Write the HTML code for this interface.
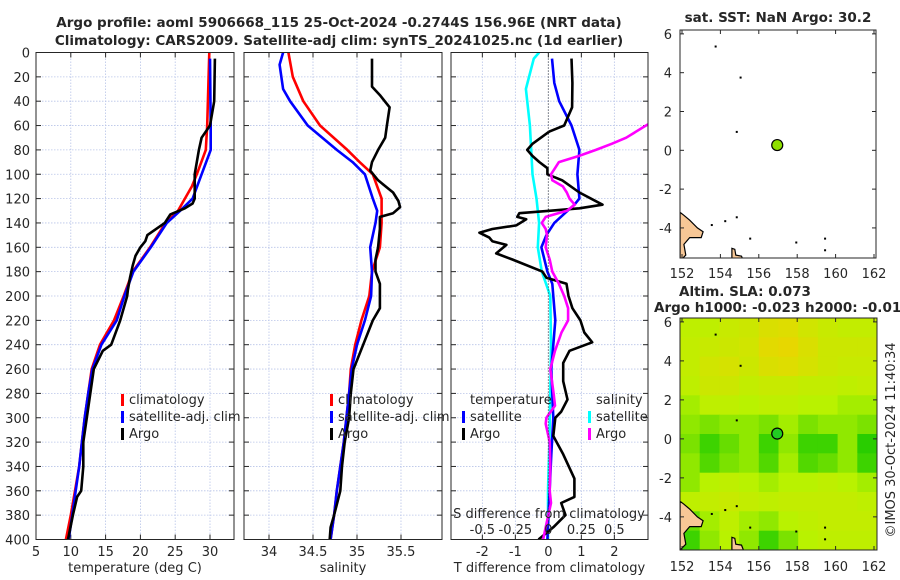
<!DOCTYPE html>
<html><head><meta charset="utf-8"><style>
body{margin:0;background:#fff}
svg{display:block;font-family:"DejaVu Sans","Liberation Sans",sans-serif}
</style></head><body>
<svg id="fig" width="900" height="580" viewBox="0 0 900 580"></svg>
<script>
// ---------- data ----------
const depthTicks=[0,20,40,60,80,100,120,140,160,180,200,220,240,260,280,300,320,340,360,380,400];
const tempTicks=[5,10,15,20,25,30];
const salTicks=[34,34.5,35,35.5];
const tdiffTicks=[-2,-1,0,1,2];
const sdiffTicks=[-0.5,-0.25,0,0.25,0.5];
const sdiffTickLabels=["-0.5","-0.25","0","0.25","0.5"];

const climDepth=[0,20,40,60,80,100,110,120,130,140,160,180,200,220,240,260,280,300,320,340,360,380,400];
const climTemp=[29.9,29.8,29.7,29.6,29.4,28.1,27.4,26.4,25.4,23.6,21.4,18.9,17.6,16.2,14.2,13.0,12.5,12.0,11.6,11.2,10.6,10.0,9.3];
const satDepth=[5,60,80,100,120,130,140,160,180,200,220,240,260,280,300,320,340,360,380,400];
const satTemp=[30.0,30.1,30.1,28.8,27.5,25.7,23.8,21.5,19.0,17.7,16.6,14.4,13.1,12.5,12.0,11.6,11.2,10.7,10.2,9.7];
const argoTDepth=[5,40,60,70,80,90,100,120,124,128,133,140,150,155,160,167,175,185,195,200,220,240,245,260,280,300,320,340,360,365,380,400];
const argoTemp=[30.7,30.6,30.0,28.8,28.4,28.1,27.8,27.8,27.5,26.4,24.3,23.5,21.0,20.7,20.0,19.3,18.9,18.5,18.2,18.1,17.1,15.8,14.6,13.3,12.8,12.3,11.8,11.8,11.5,10.9,10.3,9.6];

const climSalDepth=[0,20,40,60,80,90,100,120,140,160,180,200,220,240,260,280,300,320,340,360,380,400];
const climSal=[34.22,34.27,34.39,34.58,34.89,35.03,35.18,35.28,35.28,35.26,35.17,35.14,35.05,34.98,34.93,34.91,34.88,34.85,34.81,34.77,34.74,34.70];
const satSalDepth=[0,10,30,40,60,80,90,100,120,130,140,160,180,200,220,240,260,280,300,320,340,360,380,400];
const satSal=[34.16,34.12,34.16,34.24,34.44,34.77,34.95,35.09,35.18,35.23,35.21,35.15,35.17,35.16,35.09,35.0,34.94,34.91,34.88,34.85,34.81,34.77,34.74,34.70];
const argoSalDepth=[5,28,35,45,60,70,80,90,97,105,115,122,127,132,135,145,160,170,180,190,200,210,220,240,260,280,300,320,340,360,380,390,400];
const argoSal=[35.17,35.17,35.26,35.37,35.34,35.32,35.24,35.17,35.15,35.24,35.41,35.47,35.49,35.41,35.26,35.26,35.24,35.21,35.21,35.26,35.26,35.26,35.18,35.07,34.96,34.93,34.91,34.86,34.83,34.81,34.74,34.70,34.69];

const tSatDiffDepth=[5,25,40,60,80,100,120,125,130,140,150,160,180,190,200,220,260,300,330,400];
const tSatDiff=[0.11,0.18,0.33,0.70,0.94,0.88,0.94,0.79,0.58,0.18,-0.06,-0.21,-0.03,0.12,0.15,0.21,0.09,0.15,0.09,-0.03];
const sSatDiffDepth=[0,5,30,60,80,100,120,140,160,180,200,240,280,320,360,400];
const sSatDiff=[-0.07,-0.11,-0.17,-0.14,-0.13,-0.12,-0.09,-0.07,-0.08,-0.05,0.015,0.02,0.015,0.008,-0.003,-0.003];
const sArgoDiffDepth=[50,60,70,75,80,85,90,95,100,105,110,115,120,125,130,135,140,145,150,160,170,180,190,200,210,220,230,245,260,280,290,300,305,320,340,360,370,385,400];
const sArgoDiff=[0.9,0.74,0.59,0.48,0.36,0.23,0.08,0.05,0.02,0.03,0.11,0.14,0.16,0.2,0.14,-0.02,-0.05,-0.02,-0.01,-0.02,0.01,0.03,0.08,0.12,0.15,0.15,0.10,0.05,0.015,0.04,0.05,-0.015,-0.02,0.01,0.015,0.01,0.02,-0.01,-0.04];
const tArgoDiffDepth=[5,25,45,60,65,75,80,85,90,95,100,105,115,125,128,130,132,135,137,142,145,148,152,155,158,165,170,180,185,190,200,210,220,230,238,245,255,270,285,295,300,315,330,350,365,370,380,390,400];
const tArgoDiff=[0.70,0.73,0.72,0.48,0.03,-0.48,-0.64,-0.48,-0.27,-0.03,-0.03,0.42,0.94,1.64,0.94,0.03,-0.88,-0.94,-0.67,-0.97,-1.70,-2.09,-1.79,-1.70,-1.27,-1.58,-1.09,-0.18,-0.06,0.55,0.61,0.73,0.97,1.09,1.33,0.64,0.45,0.45,0.58,0.39,0.21,0.15,0.45,0.79,0.79,0.39,0.52,0.15,-0.30];

const lonTicks=[152,154,156,158,160,162];
const latTicks=[6,4,2,0,-2,-4];
const argoLon=156.96, argoLat=0.27;
const slaGrid=[
[.45,.45,.55,.6,.75,.8,.65,.55,.5,.5],
[.5,.55,.6,.65,.85,.9,.75,.6,.6,.6],
[.5,.65,.7,.6,.75,.8,.7,.6,.55,.55],
[.45,.6,.6,.5,.55,.55,.5,.5,.45,.5],
[.35,.45,.45,.4,.45,.45,.4,.4,.35,.35],
[.3,.25,.3,.3,.25,.35,.25,.3,.3,.25],
[.25,.1,.2,.3,.1,.3,.1,.1,.3,.05],
[.3,.15,.25,.3,.15,.35,.15,.2,.3,.1],
[.3,.4,.45,.4,.35,.4,.4,.45,.4,.35],
[.45,.5,.55,.5,.45,.5,.5,.5,.5,.45],
[.2,.35,.45,.35,.3,.4,.45,.5,.5,.5],
[.1,.3,.4,.3,.1,.25,.4,.45,.45,.45]];
const landA=[[151.9,-3.2],[152.1,-3.35],[152.4,-3.6],[152.8,-4.0],[153.1,-4.2],[153.0,-4.5],[152.4,-4.5],[152.1,-4.85],[152.2,-5.4],[151.9,-5.7]];
const landB=[[154.6,-5.05],[154.75,-5.1],[154.8,-5.4],[155.1,-5.45],[155.2,-5.7],[154.6,-5.7]];

// ---------- helpers ----------
const NS="http://www.w3.org/2000/svg";
const svg=document.getElementById('fig');
function mk(tag,attrs,parent){const e=document.createElementNS(NS,tag);for(const k in attrs)e.setAttribute(k,attrs[k]);(parent||svg).appendChild(e);return e;}
function txt(x,y,s,size,anchor,parent,weight){const t=mk('text',{x:x,y:y,'font-size':size,'text-anchor':anchor||'middle',fill:'#262626','font-weight':weight||'normal'},parent);t.textContent=s;return t;}

const Y0=52.5,Y1=539.5;
const yD=d=>Y0+(d/400)*(Y1-Y0);

function panel(name,x0,x1,vmin,vmax,ticks,labels,title){
  const g=mk('g',{});
  
  
  const xs=v=>x0+(v-vmin)/(vmax-vmin)*(x1-x0);
  mk('rect',{x:x0,y:Y0,width:x1-x0,height:Y1-Y0,fill:'#fff'},g);
  depthTicks.forEach(d=>{mk('line',{x1:x0,x2:x1,y1:yD(d),y2:yD(d),stroke:'#b8c4e8','stroke-width':0.8,'stroke-dasharray':'1.5,1.5'},g);});
  ticks.forEach((v,i)=>{const x=xs(v);
    mk('line',{x1:x,x2:x,y1:Y0,y2:Y1,stroke:'#b8c4e8','stroke-width':0.8,'stroke-dasharray':'1.5,1.5'},g);
    mk('line',{x1:x,x2:x,y1:Y1,y2:Y1-5,stroke:'#262626'},g);mk('line',{x1:x,x2:x,y1:Y0,y2:Y0+5,stroke:'#262626'},g);
    const t=txt(x,556,labels[i],13,'middle',g);});
  depthTicks.forEach(d=>{mk('line',{x1:x0,x2:x0+5,y1:yD(d),y2:yD(d),stroke:'#262626'},g);mk('line',{x1:x1,x2:x1-5,y1:yD(d),y2:yD(d),stroke:'#262626'},g);});
  const cp=mk('clipPath',{id:'cp'+name},g);mk('rect',{x:x0,y:Y0,width:x1-x0,height:Y1-Y0},cp);
  const lines=mk('g',{'clip-path':'url(#cp'+name+')'},g);
  const t=txt((x0+x1)/2,572,title,13,'middle',g);
  return {g,xs,lines,x0,x1};
}
function series(p,depths,vals,color,name,scale){
  const pts=depths.map((d,i)=>p.xs(vals[i]*(scale||1)).toFixed(1)+','+yD(d).toFixed(1)).join(' ');
  const pl=mk('polyline',{points:pts,fill:'none',stroke:color,'stroke-width':2.6,'stroke-linejoin':'round'},p.lines);
  
  
}
function border(p){mk('rect',{x:p.x0,y:Y0,width:p.x1-p.x0,height:Y1-Y0,fill:'none',stroke:'#262626','stroke-width':1},p.g);}
function legendItem(g,x,y,color,label,name){
  mk('rect',{x:x,y:y-10,width:3,height:12,fill:color},g);
  const t=txt(x+8,y,label,13,'start',g);
  
  
}

// titles
const tt1=txt(339,27,'Argo profile: aoml 5906668_115 25-Oct-2024 -0.2744S 156.96E (NRT data)',13.5,'middle',null,'bold');

const tt2=txt(339,45,'Climatology: CARS2009. Satellite-adj clim: synTS_20241025.nc (1d earlier)',13.5,'middle',null,'bold');


// depth labels
depthTicks.forEach(d=>{const t=txt(30,yD(d)+5,String(d),13,'end');});

// panel 1
const p1=panel('temperature-panel',36,234,5,5+198/6.96,tempTicks,tempTicks.map(String),'temperature (deg C)');
series(p1,climDepth,climTemp,'#ff0000','temp-climatology-line');
series(p1,satDepth,satTemp,'#0000ff','temp-satellite-line');
series(p1,argoTDepth,argoTemp,'#000000','temp-argo-line');
border(p1);
legendItem(p1.g,121,404,'#ff0000','climatology','legend-climatology');
legendItem(p1.g,121,421,'#0000ff','satellite-adj. clim','legend-satellite');
legendItem(p1.g,121,438,'#000000','Argo','legend-argo');

// panel 2
const p2=panel('salinity-panel',244,442,33.716,33.716+198/88,salTicks,['34','34.5','35','35.5'],'salinity');
series(p2,climSalDepth,climSal,'#ff0000','sal-climatology-line');
series(p2,satSalDepth,satSal,'#0000ff','sal-satellite-line');
series(p2,argoSalDepth,argoSal,'#000000','sal-argo-line');
border(p2);
legendItem(p2.g,330,404,'#ff0000','climatology','legend-climatology-2');
legendItem(p2.g,330,421,'#0000ff','satellite-adj. clim','legend-satellite-2');
legendItem(p2.g,330,438,'#000000','Argo','legend-argo-2');

// panel 3
const p3=panel('difference-panel',451,648,-2.95,-2.95+197/33,tdiffTicks,tdiffTicks.map(String),'T difference from climatology');
mk('line',{x1:p3.xs(0),x2:p3.xs(0),y1:Y0,y2:Y1,stroke:'#333','stroke-width':1,'stroke-dasharray':'1,2'},p3.g);
series(p3,sSatDiffDepth,sSatDiff,'#00ffff','s-diff-satellite-line',4);
series(p3,tSatDiffDepth,tSatDiff,'#0000ff','t-diff-satellite-line');
series(p3,tArgoDiffDepth,tArgoDiff,'#000000','t-diff-argo-line');
series(p3,sArgoDiffDepth,sArgoDiff,'#ff00ff','s-diff-argo-line',4);
border(p3);
txt(470,404,'temperature',13,'start',p3.g);
txt(596,404,'salinity',13,'start',p3.g);
legendItem(p3.g,462,421,'#0000ff','satellite','legend-t-satellite');
legendItem(p3.g,462,438,'#000000','Argo','legend-t-argo');
legendItem(p3.g,588,421,'#00ffff','satellite','legend-s-satellite');
legendItem(p3.g,588,438,'#ff00ff','Argo','legend-s-argo');
const sdt=txt(549,518,'S difference from climatology',13,'middle',p3.g);

sdiffTicks.forEach((v,i)=>{const t=txt(p3.xs(v*4),534,sdiffTickLabels[i],13,'middle',p3.g);});

// ---------- maps ----------
function map(name,x0,x1,y0,y1,latTop,latBot,xLabelY){
  const g=mk('g',{});
  
  
  const lonMin=152-(682-x0)/19.2, lonMax=152+(x1-682)/19.2;
  const xs=l=>x0+(l-lonMin)/(lonMax-lonMin)*(x1-x0);
  const ys=l=>y0+(latTop-l)/(latTop-latBot)*(y1-y0);
  const cp=mk('clipPath',{id:'cp'+name},g);mk('rect',{x:x0,y:y0,width:x1-x0,height:y1-y0},cp);
  const inner=mk('g',{'clip-path':'url(#cp'+name+')'},g);
  return {g,xs,ys,inner,x0,x1,y0,y1,lonMin,lonMax,latTop,latBot,xLabelY};
}
function mapFrame(m){
  const g=m.g;
  mk('rect',{x:m.x0,y:m.y0,width:m.x1-m.x0,height:m.y1-m.y0,fill:'none',stroke:'#262626'},g);
  lonTicks.forEach(l=>{const x=m.xs(l);mk('line',{x1:x,x2:x,y1:m.y1,y2:m.y1-4,stroke:'#262626'},g);mk('line',{x1:x,x2:x,y1:m.y0,y2:m.y0+4,stroke:'#262626'},g);
    const t=txt(x,m.xLabelY,String(l),13,'middle',g);});
  latTicks.forEach(l=>{const y=m.ys(l);mk('line',{x1:m.x0,x2:m.x0+4,y1:y,y2:y,stroke:'#262626'},g);mk('line',{x1:m.x1,x2:m.x1-4,y1:y,y2:y,stroke:'#262626'},g);
    const t=txt(m.x0-8,y+5,String(l),13,'end',g);});
}
function land(m){
  [landA,landB].forEach((poly,i)=>{const p=mk('polygon',{points:poly.map(q=>m.xs(q[0]).toFixed(1)+','+m.ys(q[1]).toFixed(1)).join(' '),fill:'#f7c796',stroke:'#000','stroke-width':1.2},m.inner);
    });
  [[153.7,5.4],[155,3.8],[154.8,1.0],[154.2,-3.6],[154.8,-3.4],[155.5,-4.5],[157.9,-4.7],[159.4,-4.5],[159.4,-5.1],[153.5,-3.8]].forEach(q=>{mk('rect',{x:m.xs(q[0]),y:m.ys(q[1]),width:2,height:2,fill:'#000'},m.inner);});
}
function argoDot(m,color){
  const c=mk('circle',{cx:m.xs(argoLon),cy:m.ys(argoLat),r:5.5,fill:color,stroke:'#000','stroke-width':1.2},m.inner);
  
  
}

const m1=map('sst-map',680,876,30,258,6.2,-5.55,278);
mk('rect',{x:680,y:30,width:196,height:228,fill:'#fff'},m1.inner);
land(m1);argoDot(m1,'#8fe000');mapFrame(m1);
const mt1=txt(778,22,'sat. SST: NaN Argo: 30.2',13.5,'middle',null,'bold');


const m2=map('sla-map',680,877,318,550,6.2,-5.7,571);
function slaColor(v){let r,g,b;
  if(v<0.4){const t=v/0.4;r=20+t*165;g=200+t*42;b=0;}else{const t=Math.min(1,(v-0.4)/0.6);r=185+t*55;g=242-t*32;b=0;}
  return 'rgb('+Math.round(r)+','+Math.round(g)+','+Math.round(b)+')';}
const nr=slaGrid.length,nc=slaGrid[0].length;
const lonStep=(m2.lonMax-m2.lonMin)/nc, latStep=(m2.latTop-m2.latBot)/nr;
slaGrid.forEach((row,i)=>row.forEach((v,j)=>{
  const x=m2.xs(m2.lonMin+j*lonStep),y=m2.ys(m2.latTop-i*latStep);
  const c=mk('rect',{x:x.toFixed(1),y:y.toFixed(1),width:(m2.xs(m2.lonMin+(j+1)*lonStep)-x+0.6).toFixed(1),height:(m2.ys(m2.latTop-(i+1)*latStep)-y+0.6).toFixed(1),fill:slaColor(v)},m2.inner);
  
  
}));
land(m2);argoDot(m2,'#22cc22');mapFrame(m2);
const mt2=txt(745,296,'Altim. SLA: 0.073',13.5,'middle',null,'bold');

const mt3=txt(654,312,'Argo h1000: -0.023 h2000: -0.017',13.5,'start',null,'bold');


const cr=txt(0,0,'©IMOS 30-Oct-2024 11:40:34',13,'middle');
cr.setAttribute('transform','translate(895,440) rotate(-90)');

</script>
</body></html>
